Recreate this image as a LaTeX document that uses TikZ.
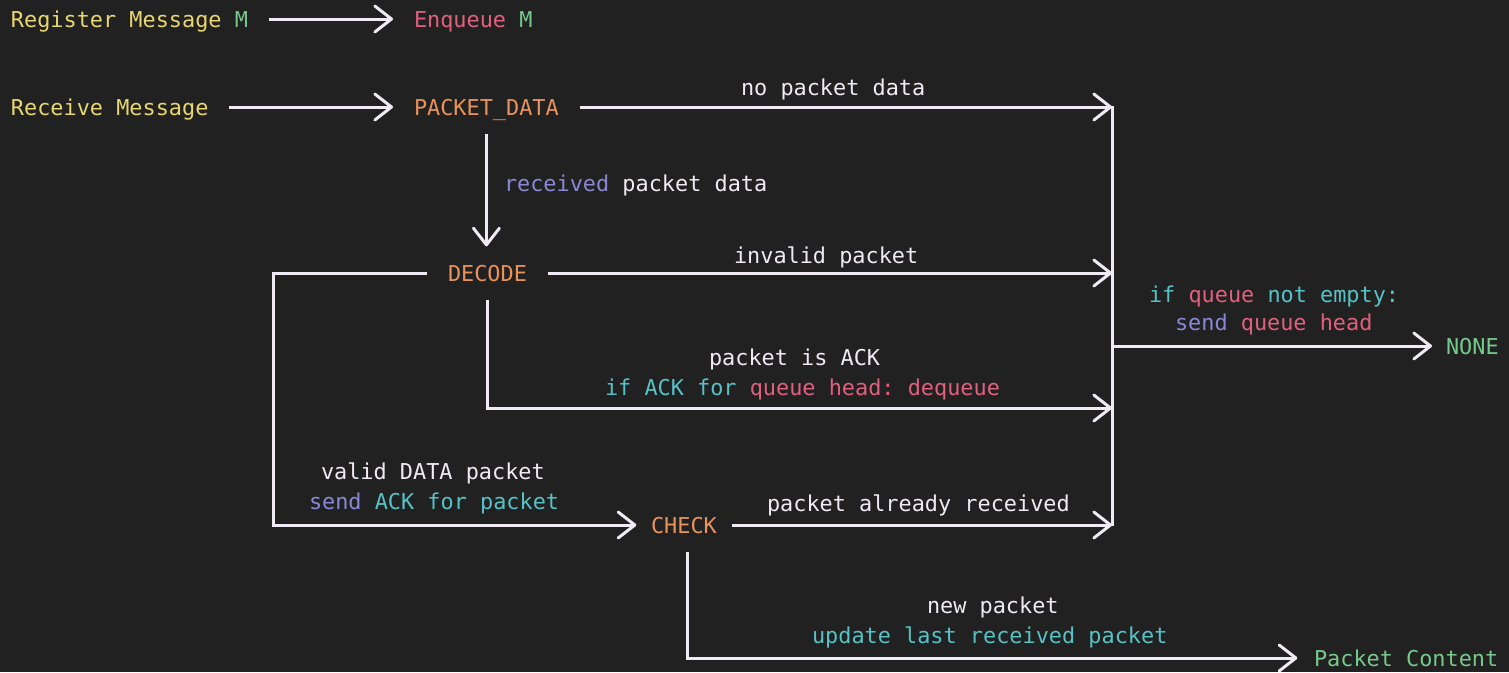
\documentclass[tikz,border=0pt]{standalone}
\usepackage{fontspec}
\setmonofont{DejaVu Sans Mono}
\usetikzlibrary{arrows.meta}
\definecolor{bgc}{HTML}{212121}
\definecolor{fg}{HTML}{EFEAF4}
\definecolor{cyel}{HTML}{E8D670}
\definecolor{cgrn}{HTML}{75C98A}
\definecolor{cpink}{HTML}{E0607E}
\definecolor{corg}{HTML}{E8935A}
\definecolor{cpur}{HTML}{8C86D6}
\definecolor{ccyan}{HTML}{56C2C6}
\begin{document}
\begin{tikzpicture}[x=0.75pt,y=-0.75pt,
  font=\ttfamily\fontsize{16.4}{20}\selectfont,
  state/.style={inner sep=0pt, text height=12pt, text depth=0pt, outer xsep=15.75pt, outer ysep=14pt, anchor=text},
  lbl/.style={inner sep=0pt, anchor=text, text=fg},
  line/.style={draw=fg, line width=2.25pt},
  arr/.style={line, -{Straight Barb[length=12.5pt,width=19.5pt,round]}}]
\fill[bgc] (0,0) rectangle (1509,672);
\useasboundingbox (0,0) rectangle (1509,672);

% states
\node[state,text=cyel] (reg) at (11,27) {Register Message \textcolor{cgrn}{M}};
\node[state,text=cpink] (enq) at (414,27) {Enqueue \textcolor{cgrn}{M}};
\node[state,text=cyel] (recv) at (11,115) {Receive Message};
\node[state,text=corg] (pd) at (414,115) {PACKET\_DATA};
\node[state,text=corg] (dec) at (448,281) {DECODE};
\node[state,text=corg,outer xsep=11pt] (chk) at (651,533) {CHECK};
\node[state,text=cgrn,outer xsep=10.5pt] (none) at (1446,354) {NONE};
\node[state,text=cgrn,outer xsep=12.5pt] (pc) at (1314,666) {Packet Content};

% helper coordinates
\coordinate (bartop) at (1112,106);
\coordinate (barbot) at (1112,526);
\coordinate (barnone) at (1112,346);
\coordinate (barack) at (1112,408);
\coordinate (leftx) at (273,0);
\coordinate (chkdown) at (687,0);

% connectors
\draw[arr] (reg) -- (enq);
\draw[arr] (recv) -- (pd);
\draw[line] (bartop) -- (barbot);
\draw[arr] (pd) -- (pd -| bartop);
\draw[arr] (pd.south) -- (pd.south |- dec.north);
\draw[arr] (dec) -- (dec -| bartop);
\draw[arr] (dec.south) |- (barack);
\draw[arr] (dec.west) -- (dec.west -| leftx) |- (chk.west);
\draw[arr] (chk) -- (chk -| bartop);
\draw[arr] (chk.south -| chkdown) |- (pc.west);
\draw[arr] (barnone) -- (none.west);

% labels
\node[lbl] (l1) at (741,95) {no packet data};
\node[lbl] (l2) at (504,191) {\textcolor{cpur}{received} packet data};
\node[lbl] (l3) at (734,263) {invalid packet};
\node[lbl] (l4) at (1149,302) {\textcolor{ccyan}{if} \textcolor{cpink}{queue} \textcolor{ccyan}{not empty:}};
\node[lbl] (l5) at (1175,330) {\textcolor{cpur}{send} \textcolor{cpink}{queue head}};
\node[lbl] (l6) at (709,365) {packet is ACK};
\node[lbl] (l7) at (605,395) {\textcolor{ccyan}{if ACK for} \textcolor{cpink}{queue head: dequeue}};
\node[lbl] (l8) at (321,479) {valid DATA packet};
\node[lbl] (l9) at (309,509) {\textcolor{cpur}{send} \textcolor{ccyan}{ACK for packet}};
\node[lbl] (l10) at (767,511) {packet already received};
\node[lbl] (l11) at (927,613) {new packet};
\node[lbl] (l12) at (812,643) {\textcolor{ccyan}{update last received packet}};
\end{tikzpicture}
\end{document}
